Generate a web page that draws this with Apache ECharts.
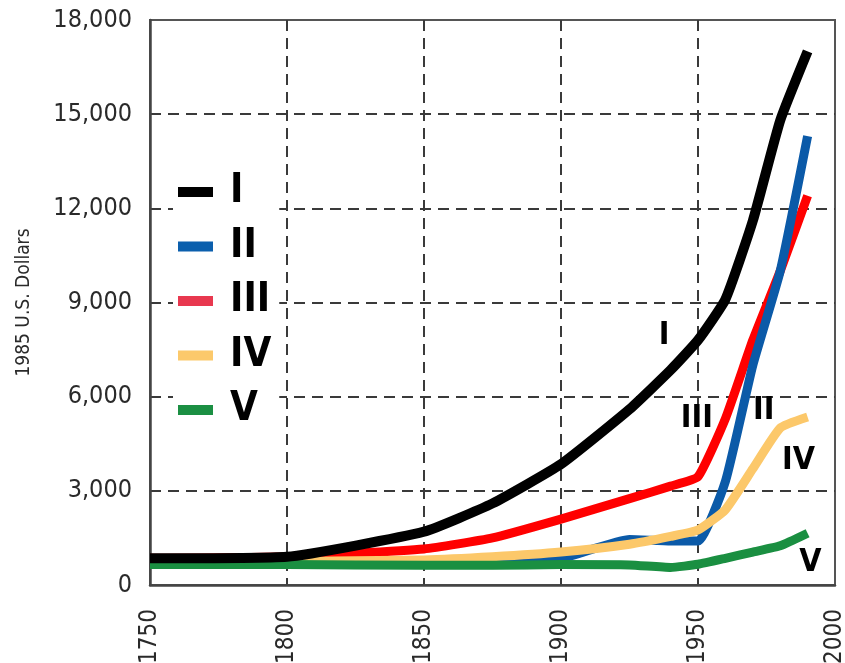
<!DOCTYPE html>
<html>
<head>
<meta charset="utf-8">
<script src="https://cdn.jsdelivr.net/npm/echarts@6/dist/echarts.min.js"></script>
<style>
html,body{margin:0;padding:0;background:#fff;}
#chart{width:845px;height:663px;}
</style>
</head>
<body>
<div id="chart"></div>
<script>
// ---- data ----
const years      = [1750, 1800, 1850, 1875, 1900, 1925, 1940, 1950, 1960, 1970, 1980, 1990];
const seriesI    = [850,  900, 1700, 2600, 3850, 5600, 6850, 7800, 9100, 11600, 14800, 17000];
const seriesII   = [700,  700,  700,  750,  850, 1450, 1400, 1400, 3300, 7000, 10000, 14300];
const seriesIII  = [850,  900, 1150, 1500, 2100, 2750, 3150, 3450, 5300, 7800, 10000, 12400];
const seriesIV   = [750,  750,  800,  900, 1050, 1300, 1550, 1750, 2400, 3700, 5000, 5350];
const seriesV    = [650,  650,  630,  630,  650,  640,  560,  660,  850, 1050, 1250, 1650];
const seriesNames = ['I', 'II', 'III', 'IV', 'V'];
const xTicks = [1750, 1800, 1850, 1900, 1950, 2000];
const yTicks = [0, 3000, 6000, 9000, 12000, 15000, 18000];
const yAxisTitle = '1985 U.S. Dollars';

// ---- style ----
const lineColors   = ['#000000', '#0b5aa8', '#ff0000', '#fcc86a', '#1a8f41'];
const legendColors = ['#000000', '#0b5fad', '#e8384f', '#fcc96b', '#1b8f43'];
const inlineLabelAt = { I: [1937.6, 7950], II: [1974, 5550], III: [1949.6, 5300], IV: [1986.7, 3950], V: [1991, 700] };
const NARROW = '"Liberation Sans Narrow", "DejaVu Sans Condensed", "Arial Narrow", sans-serif';

const allValues = [seriesI, seriesII, seriesIII, seriesIV, seriesV];
const drawOrder = [2, 1, 3, 4, 0]; // red, blue, yellow, green, black on top

const chart = echarts.init(document.getElementById('chart'), null, { renderer: 'canvas' });

const series = drawOrder.map(function (idx, k) {
  const name = seriesNames[idx];
  return {
    name: name,
    type: 'line',
    z: 2 + k,
    data: years.map(function (y, i) { return [y, allValues[idx][i]]; }),
    showSymbol: false,
    symbol: 'none',
    smooth: 0.15,
    lineStyle: { color: lineColors[idx], width: idx === 0 ? 10 : 9, cap: 'butt', join: 'round' },
    itemStyle: { color: legendColors[idx] },
    emphasis: { disabled: true },
    markPoint: {
      symbol: 'circle',
      symbolSize: 0,
      silent: true,
      data: [{ coord: inlineLabelAt[name], value: name }],
      label: {
        show: true,
        position: 'inside',
        formatter: name,
        color: '#000',
        fontFamily: NARROW,
        fontWeight: 'bold',
        fontSize: 32
      }
    }
  };
});

chart.setOption({
  animation: false,
  backgroundColor: '#fff',
  grid: {
    left: 150, right: 10, top: 20, bottom: 78,
    outerBoundsMode: 'none',
    containLabel: false,
    show: true, borderColor: '#555', borderWidth: 2, backgroundColor: 'transparent'
  },
  legend: {
    orient: 'vertical',
    left: 173, top: 167,
    padding: [5, 8, 5, 5],
    backgroundColor: '#fff',
    itemWidth: 35, itemHeight: 10,
    itemGap: 14.5,
    icon: 'rect',
    selectedMode: false,
    z: 10,
    data: seriesNames.map(function (n, i) {
      return { name: n, itemStyle: { color: legendColors[i] } };
    }),
    textStyle: {
      color: '#000', fontFamily: NARROW, fontWeight: 'bold',
      fontSize: 40, lineHeight: 40, padding: [0, 0, 0, 12]
    }
  },
  xAxis: {
    type: 'value',
    min: xTicks[0], max: xTicks[xTicks.length - 1], interval: 50,
    axisLine: { show: true, lineStyle: { color: '#444', width: 2.5 } },
    axisTick: { show: false },
    axisLabel: {
      rotate: 90, margin: 24, color: '#2a2a2a',
      fontFamily: NARROW, fontSize: 24,
      formatter: function (v) { return String(v); }
    },
    splitLine: {
      show: true, showMinLine: false, showMaxLine: false,
      lineStyle: { color: '#3a3a3a', width: 2, type: [11, 7] }
    }
  },
  yAxis: {
    type: 'value',
    min: yTicks[0], max: yTicks[yTicks.length - 1], interval: 3000,
    name: yAxisTitle,
    nameLocation: 'middle',
    nameRotate: 90,
    nameGap: 116,
    nameTextStyle: { color: '#2a2a2a', fontFamily: NARROW, fontSize: 19 },
    axisLine: { show: true, lineStyle: { color: '#444', width: 2.5 } },
    axisTick: { show: false },
    axisLabel: {
      margin: 18, color: '#2a2a2a', fontFamily: NARROW, fontSize: 25,
      formatter: function (v) { return v.toLocaleString('en-US'); }
    },
    splitLine: {
      show: true, showMinLine: false, showMaxLine: false,
      lineStyle: { color: '#3a3a3a', width: 2, type: [11, 7] }
    }
  },
  series: series
});
</script>
</body>
</html>
